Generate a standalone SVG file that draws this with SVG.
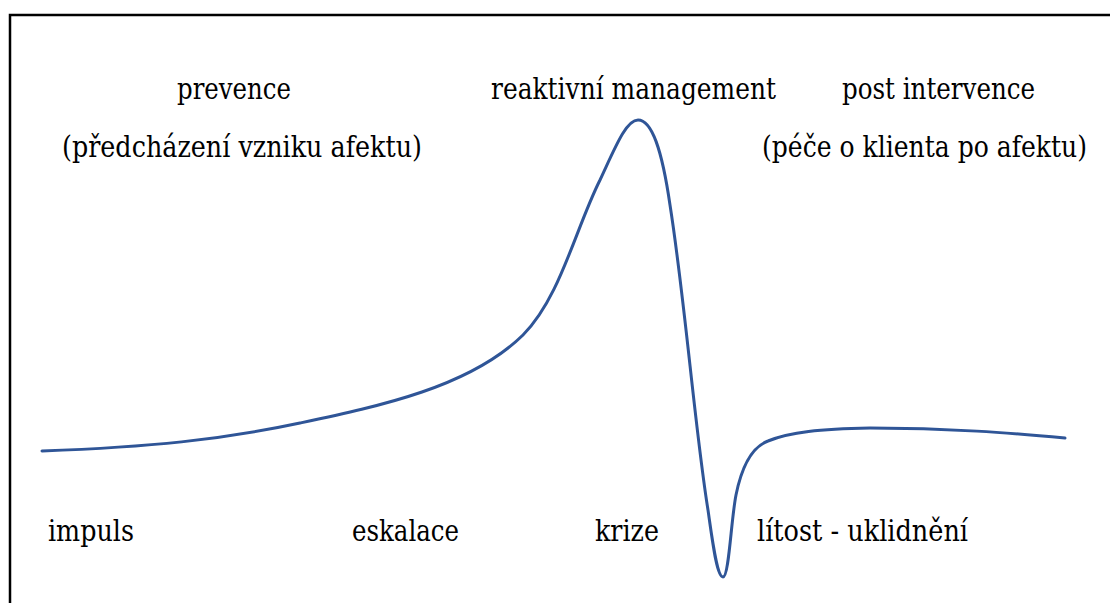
<svg xmlns="http://www.w3.org/2000/svg" width="1110" height="603" viewBox="0 0 1110 603">
<style>
text{font-family:'DejaVu Serif',serif;font-size:29px;fill:#000}
.curve{fill:none;stroke:#2F5597;stroke-width:3;stroke-linecap:round;stroke-linejoin:round}
</style>
<rect x="0" y="0" width="1110" height="603" fill="#fff"/>
<path d="M10,620 V15 H1120" fill="none" stroke="#000" stroke-width="2.5"/>
<g id="connectors">
<path class="curve" d="M42,451 C150,447 220,440 300,423 C380,406 470,387 523,335 C560,298 575,230 600,180 C615,148 626,120 638,120 C652,120 662,150 670,205 C685,300 695,430 708,510 C713,545 717,577 723,577 C729,577 731,520 736,495 C742,465 752,447 768,441 C790,432 820,429 870,428 C950,428 1010,433 1065,438"/>
</g>
<g id="labels-top">
<text x="177" y="99" textLength="114" lengthAdjust="spacingAndGlyphs">prevence</text>
<text x="62" y="157" textLength="360" lengthAdjust="spacingAndGlyphs">(předcházení vzniku afektu)</text>
<text x="491" y="99" textLength="285" lengthAdjust="spacingAndGlyphs">reaktivní management</text>
<text x="842" y="99" textLength="193" lengthAdjust="spacingAndGlyphs">post intervence</text>
<text x="762" y="157" textLength="325" lengthAdjust="spacingAndGlyphs">(péče o klienta po afektu)</text>
</g>
<g id="labels-bottom">
<text x="48" y="541" textLength="86" lengthAdjust="spacingAndGlyphs">impuls</text>
<text x="352" y="541" textLength="107" lengthAdjust="spacingAndGlyphs">eskalace</text>
<text x="595" y="541" textLength="64" lengthAdjust="spacingAndGlyphs">krize</text>
<text x="757" y="541" textLength="211" lengthAdjust="spacingAndGlyphs">lítost - uklidnění</text>
</g>
</svg>
